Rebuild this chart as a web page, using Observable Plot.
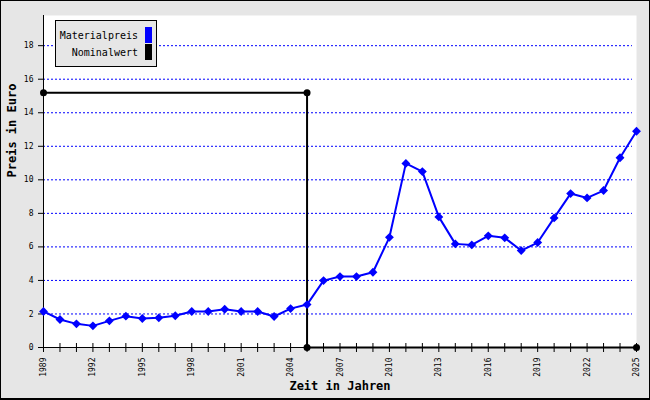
<!DOCTYPE html>
<html>
<head>
<meta charset="utf-8">
<script src="https://cdn.jsdelivr.net/npm/d3@7"></script>
<script src="https://cdn.jsdelivr.net/npm/@observablehq/plot@0.6"></script>
<style>
  body { margin: 0; background: #fff; }
  #wrap { position: relative; width: 650px; height: 400px; background: #e6e6e6; overflow: hidden; }
  #chart { position: absolute; left: 0; top: 0; }
  #border { position: absolute; left: 0; top: 0; width: 650px; height: 400px; box-sizing: border-box;
            border: 1px solid #000; border-bottom-width: 2px; pointer-events: none; }
  #legend { position: absolute; left: 55px; top: 20px; width: 102px; height: 47px; box-sizing: border-box;
            border: 1px solid #000; background: #e6e6e6; font-family: "DejaVu Sans Mono", monospace; font-size: 10px; }
  .row { position: absolute; right: 18px; text-align: right; white-space: nowrap; }
  .sw { position: absolute; left: 89px; width: 7px; height: 16px; }
</style>
</head>
<body>
<div id="wrap">
  <div id="chart"></div>
  <div id="legend">
    <div class="row" style="top:9px">Materialpreis</div>
    <div class="sw" style="top:6px;background:#0000ff"></div>
    <div class="row" style="top:26px">Nominalwert</div>
    <div class="sw" style="top:23px;background:#000"></div>
  </div>
  <div id="border"></div>
</div>
<script>
const years = d3.range(1989, 2026);
const materialpreis = [
  2.15, 1.67, 1.41, 1.29, 1.59, 1.87, 1.73, 1.77, 1.89, 2.15,
  2.15, 2.28, 2.15, 2.15, 1.85, 2.32, 2.56, 3.99, 4.23, 4.23,
  4.49, 6.57, 10.98, 10.49, 7.79, 6.18, 6.12, 6.66, 6.54, 5.78,
  6.26, 7.73, 9.18, 8.92, 9.36, 11.32, 12.9
];
const nominalYears = [1989, 2005, 2005, 2025];
const nominalValues = [15.2, 15.2, 0, 0];
const yTicks = [0, 2, 4, 6, 8, 10, 12, 14, 16, 18];
const gridTicks = [2, 4, 6, 8, 10, 12, 14, 16, 18];
const xLabelTicks = d3.range(1989, 2026, 3);
const xTitle = "Zeit in Jahren";
const yTitle = "Preis in Euro";

const material = years.map((y, i) => ({year: y, value: materialpreis[i]}));
const nominal = nominalYears.map((y, i) => ({year: y, value: nominalValues[i]}));
const font = "DejaVu Sans Mono";

const chart = Plot.plot({
  width: 650,
  height: 400,
  marginLeft: 43,
  marginRight: 14,
  marginTop: 15,
  marginBottom: 53,
  style: {background: "transparent", fontFamily: font, color: "#000"},
  x: {domain: [1989, 2025]},
  y: {domain: [0, 19.8]},
  marks: [
    Plot.frame({fill: "white", stroke: null}),
    Plot.gridY(gridTicks, {stroke: "#0000ff", strokeOpacity: 1, strokeDasharray: "2,2", strokeWidth: 1, insetRight: 4}),
    Plot.ruleY([0], {stroke: "#000", strokeWidth: 1}),
    Plot.ruleX([1989], {stroke: "#000", strokeWidth: 1}),
    Plot.axisY({ticks: yTicks, tickSize: 5, tickPadding: 5, fontSize: 8, fontFamily: font, label: null, tickFormat: d => String(d)}),
    Plot.axisX({ticks: years, tickSize: 9, dy: -4, tickFormat: () => "", label: null}),
    Plot.axisX({ticks: xLabelTicks, tickSize: 0, tickPadding: 10, tickRotate: -90, fontSize: 8, fontFamily: font, label: null, tickFormat: d => String(d)}),
    Plot.line(nominal, {x: "year", y: "value", stroke: "#000", strokeWidth: 2}),
    Plot.dot(nominal, {x: "year", y: "value", r: 3.5, fill: "#000", stroke: null}),
    Plot.line(material, {x: "year", y: "value", stroke: "#0000ff", strokeWidth: 2}),
    Plot.dot(material, {x: "year", y: "value", symbol: "diamond2", r: 4, fill: "#0000ff", stroke: null}),
    Plot.text([xTitle], {frameAnchor: "bottom", dy: 42, text: d => d, fontWeight: "bold", fontSize: 12, fontFamily: font, fill: "#000"}),
    Plot.text([yTitle], {frameAnchor: "left", dx: -31, dy: -4, rotate: -90, text: d => d, fontWeight: "bold", fontSize: 12, fontFamily: font, fill: "#000"})
  ]
});
document.getElementById("chart").appendChild(chart);
</script>
</body>
</html>
